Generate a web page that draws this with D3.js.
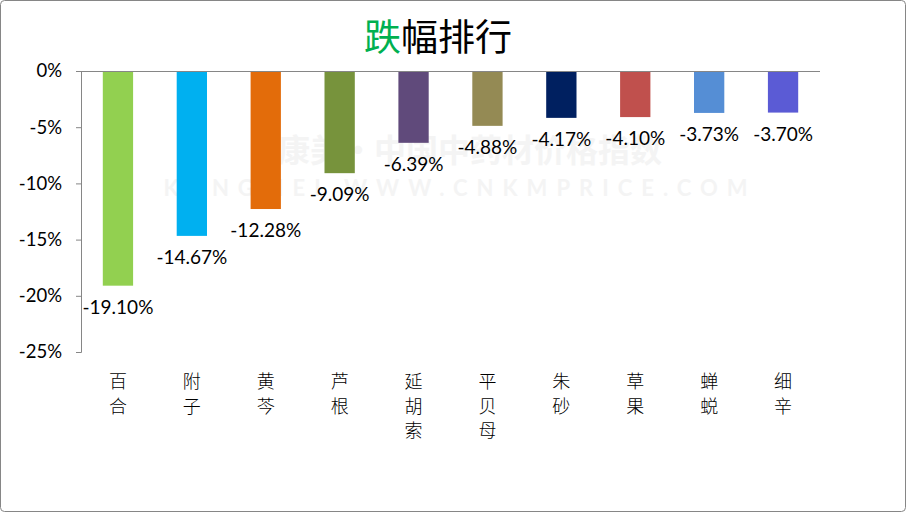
<!DOCTYPE html>
<html>
<head>
<meta charset="utf-8">
<script src="https://cdn.jsdelivr.net/npm/d3@7"></script>
<style>
  body { margin: 0; background: #fff; }
  text { font-family: Lato, "Noto Sans CJK SC", sans-serif; }
</style>
</head>
<body>
<div id="chart"></div>
<script>
const width = 906, height = 512;

const names = ["百合", "附子", "黄芩", "芦根", "延胡索", "平贝母", "朱砂", "草果", "蝉蜕", "细辛"];
const changes = [-19.10, -14.67, -12.28, -9.09, -6.39, -4.88, -4.17, -4.10, -3.73, -3.70];
const colors = ["#92D050", "#00B0F0", "#E36C0A", "#77933C", "#604A7B", "#948A54", "#002060", "#C0504D", "#558ED5", "#5B5BD5"];
const yTicks = [0, -5, -10, -15, -20, -25];

const margin = {top: 71, left: 81, right: 86, bottom: 160};

const svg = d3.select("#chart")
	.append("svg")
	.attr("width", width)
	.attr("height", height);

// frame
svg.append("rect")
	.attr("x", 0.5).attr("y", 0.5)
	.attr("width", width - 1).attr("height", height - 1)
	.attr("rx", 4)
	.attr("fill", "#fff")
	.attr("stroke", "#868686");

// title
const title = svg.append("text")
	.attr("x", 438).attr("y", 51)
	.attr("text-anchor", "middle")
	.style("font-family", "'Noto Sans CJK SC', sans-serif")
	.style("font-size", "37px");
title.append("tspan").attr("fill", "#00B050").text("跌");
title.append("tspan").attr("fill", "#000").text("幅排行");

// faint watermark (background)
const wm = svg.append("g").attr("pointer-events", "none");
wm.append("text")
	.attr("x", 470).attr("y", 162)
	.attr("text-anchor", "middle")
	.attr("fill", "#f4f4f4")
	.style("font-family", "'Noto Sans CJK SC', sans-serif")
	.style("font-size", "32px")
	.style("font-weight", "bold")
	.text("康美·中国中药材价格指数");
wm.append("text")
	.attr("x", 460).attr("y", 196)
	.attr("text-anchor", "middle")
	.attr("fill", "#f4f4f4")
	.style("font-size", "22px")
	.style("font-weight", "bold")
	.style("letter-spacing", "9px")
	.text("KANGMEI WWW.CNKMPRICE.COM");

const x = d3.scaleBand()
	.domain(names)
	.range([margin.left, width - margin.right])
	.paddingInner(0.59)
	.paddingOuter(0.295);

const y = d3.scaleLinear()
	.domain([-25, 0])
	.range([352, margin.top]);

// y axis
const yAxis = svg.append("g")
	.attr("transform", `translate(${margin.left},0)`)
	.call(d3.axisLeft(y).tickValues(yTicks).tickSize(5).tickPadding(14).tickFormat(d => d + "%"));
yAxis.selectAll("line, path").attr("stroke", "#868686");
yAxis.select(".domain").attr("d", `M-5,${y(-25) + 0.5}H0.5V${y(0) + 0.5}H-5`);
yAxis.selectAll("text")
	.attr("fill", "#000")
	.style("font-size", "18.5px");

// bars
svg.selectAll(".bar")
	.data(names)
	.enter()
	.append("rect")
	.classed("bar", true)
	.attr("x", d => x(d))
	.attr("y", y(0))
	.attr("width", x.bandwidth())
	.attr("height", (d, i) => y(changes[i]) - y(0))
	.attr("fill", (d, i) => colors[i]);

// zero line
svg.append("line")
	.attr("x1", margin.left - 5).attr("x2", width - margin.right)
	.attr("y1", y(0) + 0.5).attr("y2", y(0) + 0.5)
	.attr("stroke", "#868686");

// value labels
svg.selectAll(".label")
	.data(names)
	.enter()
	.append("text")
	.classed("label", true)
	.attr("x", d => x(d) + x.bandwidth() / 2)
	.attr("y", (d, i) => y(changes[i]) + 28)
	.attr("text-anchor", "middle")
	.attr("fill", "#000")
	.style("font-size", "19px")
	.text((d, i) => changes[i].toFixed(2) + "%");

// vertical category labels
const cats = svg.selectAll(".cat")
	.data(names)
	.enter()
	.append("text")
	.classed("cat", true)
	.attr("text-anchor", "middle")
	.attr("fill", "#000")
	.style("font-family", "'Noto Sans CJK SC', sans-serif")
	.style("font-size", "18px")
	.style("font-weight", "300");
cats.selectAll("tspan")
	.data(d => Array.from(d).map(c => ({c, x: x(d) + x.bandwidth() / 2})))
	.enter()
	.append("tspan")
	.attr("x", c => c.x)
	.attr("y", (c, i) => 388 + i * 24.5)
	.text(c => c.c);
</script>
</body>
</html>
